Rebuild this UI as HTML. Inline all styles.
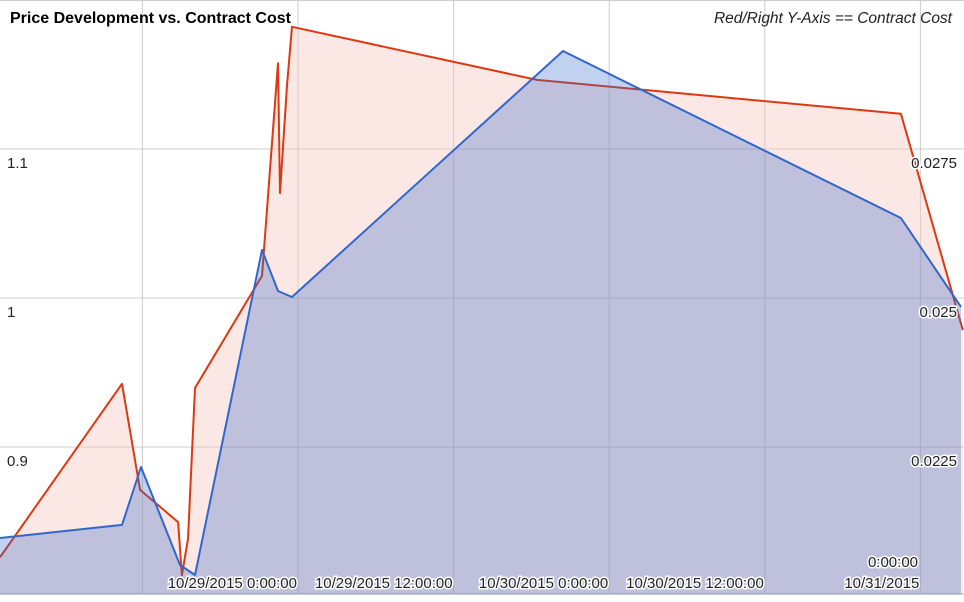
<!DOCTYPE html>
<html><head><meta charset="utf-8"><style>
body{margin:0;background:#fff;font-family:"Liberation Sans",Arial,sans-serif}
svg text{font-family:"Liberation Sans",Arial,sans-serif}
</style></head><body>
<svg id="chart" width="964" height="597" xmlns="http://www.w3.org/2000/svg">
<rect width="964" height="597" fill="#fff"/>
<g id="grid"></g>
<g id="areas"></g>
<g id="labels"></g>
<text x="10" y="23" font-size="16" font-weight="bold" fill="#000">Price Development vs. Contract Cost</text>
<text x="952" y="23" font-size="15.5" font-style="italic" text-anchor="end" fill="#222">Red/Right Y-Axis == Contract Cost</text>
</svg>
<script>
const blueHours=[-22.98,-13.57,-12.11,-9.10,-7.94,-2.78,-1.54,-0.46,20.44,46.50,51.13];
const blueValues=[0.8389,0.8477,0.8866,0.8208,0.8141,1.0322,1.0047,1.0007,1.1658,1.0537,0.9940];
const redHours=[-22.98,-13.57,-12.18,-9.25,-8.95,-8.48,-7.94,-2.78,-1.54,-1.39,-0.85,-0.46,18.43,46.50,51.28];
const redValues=[0.02065,0.02356,0.02178,0.02124,0.02035,0.02096,0.02349,0.02537,0.02894,0.02676,0.02857,0.02955,0.02866,0.02809,0.02446];
const leftTicks=[0.9,1.0,1.1];
const leftTickLabels=["0.9","1","1.1"];
const rightTicks=[0.0225,0.025,0.0275];
const rightTickLabels=["0.0225","0.025","0.0275"];
const xTickHours=[0,12,24,36,48];
const xTickLabels=["10/29/2015 0:00:00","10/29/2015 12:00:00","10/30/2015 0:00:00","10/30/2015 12:00:00","10/31/2015"];
const gridHours=[-12,0,12,24,36,48];

const NS="http://www.w3.org/2000/svg";
const BOTTOM=594;
const xs=h=>298+h*155.6/12;
const yL=v=>298-(v-1.0)*1490;
const yR=v=>298-(v-0.025)*149/0.0025;
function mk(tag,attrs,parent){const e=document.createElementNS(NS,tag);for(const k in attrs)e.setAttribute(k,attrs[k]);parent.appendChild(e);return e;}
const grid=document.getElementById('grid'),areas=document.getElementById('areas'),labels=document.getElementById('labels');
mk('line',{x1:0,y1:0.5,x2:964,y2:0.5,stroke:'#ccc'},grid);
leftTicks.forEach(v=>{const l=mk('line',{x1:0,x2:964,y1:yL(v),y2:yL(v),stroke:'#ccc'},grid);

});
gridHours.forEach(h=>{const l=mk('line',{x1:xs(h),x2:xs(h),y1:0,y2:BOTTOM,stroke:'#ccc'},grid);

});
function area(hs,vs,sc,fill,fo,stroke,name){
 const pts=hs.map((h,i)=>xs(h).toFixed(1)+','+sc(vs[i]).toFixed(1));
 const a=mk('polygon',{points:xs(hs[0])+','+BOTTOM+' '+pts.join(' ')+' '+xs(hs[hs.length-1])+','+BOTTOM,fill:fill,'fill-opacity':fo},areas);
 
 
 const l=mk('polyline',{points:pts.join(' '),fill:'none',stroke:stroke,'stroke-width':2,'stroke-linejoin':'round'},areas);
 
 
}
area(redHours,redValues,yR,'#f6c2b8',0.4,'#dc3912','contract-cost');
area(blueHours,blueValues,yL,'#3366cc',0.3,'#3366cc','price');
mk('line',{x1:0,x2:964,y1:BOTTOM,y2:BOTTOM,stroke:'#999'},grid);
leftTicks.forEach((v,i)=>{const t=mk('text',{x:7,y:yL(v)+19,'font-size':15,fill:'#222'},labels);t.textContent=leftTickLabels[i];

});
rightTicks.forEach((v,i)=>{const t=mk('text',{x:957,y:yR(v)+19,'font-size':15,fill:'#222','text-anchor':'end',stroke:'#fff','stroke-width':3,'paint-order':'stroke'},labels);t.textContent=rightTickLabels[i];

});
xTickHours.forEach((h,i)=>{const t=mk('text',{x:xs(h)-1,y:588,'font-size':15,fill:'#222','text-anchor':'end',stroke:'#fff','stroke-width':3,'paint-order':'stroke'},labels);t.textContent=xTickLabels[i];

});
const z=mk('text',{x:918,y:567,'font-size':15,fill:'#222','text-anchor':'end',stroke:'#fff','stroke-width':3,'paint-order':'stroke'},labels);z.textContent='0:00:00';


</script>
</body></html>
